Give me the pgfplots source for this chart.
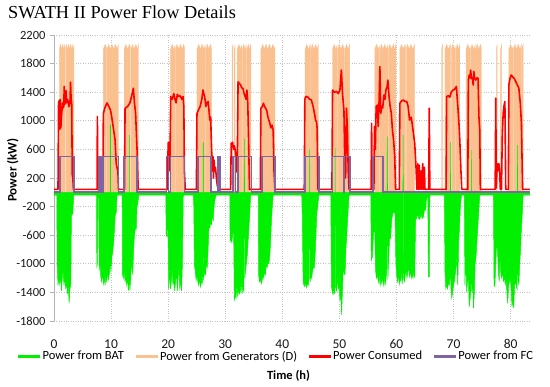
\documentclass[border=0pt]{standalone}
\usepackage{pgfplots}
\pgfplotsset{compat=1.18}
\usepackage{pgfplotstable}
\usepackage{fontspec}
\setmainfont{Carlito}
\newfontfamily\titlefont{Liberation Serif}
\definecolor{batgreen}{RGB}{0,240,0}
\definecolor{genorange}{RGB}{250,192,144}
\definecolor{fcpurple}{RGB}{128,100,162}
\definecolor{gridgray}{RGB}{195,195,195}

\pgfplotstableread{
t p
0 0
0.93 0
0.93 2000
1.13 2070
1.33 2000
1.53 2070
1.73 2000
1.9 2070
1.9 0
2.02 0
2.02 2000
2.13 2070
2.33 2000
2.53 2070
2.73 2000
2.93 2070
3.13 2000
3.33 2070
3.5 2000
3.5 0
8.65 0
8.65 2000
8.95 2070
9.2 2020
9.2 0
9.32 0
9.32 2000
9.55 2070
9.85 2000
10.15 2070
10.45 2000
10.75 2070
11.05 2000
11.3 2070
11.3 0
12.3 0
12.3 2000
12.6 2070
12.9 2000
13.2 2070
13.4 2030
13.4 0
13.52 0
13.52 2000
13.75 2070
14.05 2000
14.35 2070
14.6 2000
14.8 2070
14.8 0
20.4 0
20.4 2000
20.7 2070
21.0 2000
21.2 2050
21.2 0
21.32 0
21.32 2000
21.55 2070
21.85 2000
22.15 2070
22.45 2000
22.7 2070
22.9 2020
22.9 0
25.05 0
25.05 2000
25.35 2070
25.65 2000
25.95 2070
26.25 2000
26.5 2060
26.5 0
26.62 0
26.62 2000
26.85 2070
27.15 2000
27.4 2070
27.6 2010
27.6 0
31.2 0
31.2 2000
31.35 2070
31.35 0
31.6 0
31.6 2000
31.72 2060
31.72 0
32.1 0
32.1 2000
32.4 2070
32.7 2000
32.9 2060
32.9 0
33.02 0
33.02 2000
33.25 2070
33.5 2000
33.7 2060
33.7 0
33.82 0
33.82 2000
34.05 2070
34.3 2000
34.5 2070
34.5 0
36.25 0
36.25 2000
36.55 2070
36.85 2000
37.15 2070
37.45 2000
37.75 2070
38.05 2000
38.35 2070
38.7 2010
38.7 0
44.0 0
44.0 2000
44.3 2070
44.6 2000
44.9 2070
44.9 0
45.02 0
45.02 2000
45.25 2070
45.55 2000
45.85 2070
46.1 2000
46.3 2070
46.3 0
48.8 0
48.8 2000
49.1 2070
49.4 2000
49.6 2060
49.6 0
49.72 0
49.72 2000
49.95 2070
50.25 2000
50.55 2070
50.85 2000
50.9 2010
50.9 0
51.02 0
51.02 2000
51.25 2070
51.55 2000
51.8 2070
51.8 0
56.2 0
56.2 2000
56.5 2070
56.8 2000
57.0 2050
57.0 0
57.12 0
57.12 2000
57.35 2070
57.65 2000
57.95 2070
58.25 2000
58.5 2060
58.5 0
58.62 0
58.62 2000
58.85 2070
59.15 2000
59.45 2070
59.7 2000
59.9 2070
59.9 0
60.6 0
60.6 2000
60.9 2070
61.2 2000
61.5 2070
61.6 2030
61.6 0
61.72 0
61.72 2000
61.95 2070
62.25 2000
62.55 2070
62.85 2000
63.2 2070
63.2 0
67.9 0
67.9 2000
68.1 2070
68.1 0
68.5 0
68.5 2000
68.8 2070
69.1 2000
69.4 2070
69.5 2030
69.5 0
69.62 0
69.62 2000
69.85 2070
70.15 2000
70.3 2040
70.3 0
70.42 0
70.42 2000
70.65 2070
70.9 2000
71.1 2070
71.1 0
72.2 0
72.2 2000
72.5 2070
72.8 2000
72.9 2030
72.9 0
73.02 0
73.02 2000
73.25 2070
73.55 2000
73.8 2060
73.8 0
73.92 0
73.92 2000
74.15 2070
74.45 2000
74.7 2070
74.9 2010
74.9 0
77.5 0
77.5 2000
77.65 2070
77.65 0
78.25 0
78.25 2000
78.45 2070
78.45 0
79.7 0
79.7 2000
80.0 2070
80.3 2000
80.4 2030
80.4 0
80.52 0
80.52 2000
80.75 2070
81.05 2000
81.35 2070
81.65 2000
81.9 2070
81.9 0
82.0 0
82.0 2000
82.2 2070
82.2 0
83.4 0
}\gendata

\pgfplotstableread{
t p
0 -40
0.5 -40
0.55 -1000
0.7 -1300
0.85 -1200
1.0 -1280
1.15 -1150
1.3 -1380
1.45 -1200
1.6 -1100
1.75 -1300
1.9 -1180
2.05 -1350
2.2 -1250
2.35 -1420
2.5 -1300
2.65 -1550
2.8 -1350
2.95 -1280
3.05 -320
3.3 -300
3.45 -40
7.45 -40
7.5 -1040
7.6 -1000
7.7 -80
7.85 -80
7.9 -1100
8.05 -950
8.2 -1180
8.35 -1250
8.5 -1120
8.65 -1280
8.8 -1200
8.95 -1300
9.1 -1150
9.25 -1260
9.4 -1100
9.55 -1220
9.7 -1140
9.85 -1000
9.9 950
9.95 -1120
10.15 -900
10.3 -830
10.45 -700
10.6 -520
10.75 -300
10.9 -290
11.05 -40
11.95 -40
12.0 -1150
12.15 -1200
12.3 -1100
12.45 -1250
12.6 -1180
12.75 -1300
12.9 -1200
13.05 -1370
13.2 -1250
13.25 800
13.3 -1380
13.5 -1100
13.65 -1000
13.8 -1150
13.95 -800
14.1 -600
14.25 -500
14.4 -520
14.55 -200
14.7 -150
14.85 -40
19.6 -40
19.65 -600
19.8 -620
19.95 -300
20.1 -1350
20.25 -1100
20.4 -1350
20.55 -1250
20.7 -1100
20.85 -1300
21.0 -1200
21.15 -1380
21.3 -1250
21.45 -1100
21.6 -1380
21.75 -1200
21.9 -1050
22.05 -1370
22.2 -1200
22.35 -1380
22.5 -1000
22.65 -40
24.4 -40
24.5 -200
24.6 -1020
24.75 -1100
24.9 -1230
25.05 -1150
25.2 -1250
25.35 -1300
25.5 -1200
25.65 -1320
25.8 -1250
25.95 -1280
26.1 -1150
26.15 700
26.2 -1230
26.4 -1100
26.55 -1150
26.7 -980
26.85 -1050
27.0 -800
27.15 -460
27.3 -500
27.45 -420
27.6 -450
27.75 -300
27.9 -400
28.05 -200
28.2 -100
28.4 -40
30.8 -40
30.85 -690
31.0 -650
31.15 -700
31.3 -600
31.45 -400
31.6 -1505
31.75 -1450
31.9 -1480
32.05 -1300
32.2 -1460
32.35 -1350
32.5 -1420
32.65 -1390
32.8 -1250
32.95 -1420
33.1 -1300
33.25 -1390
33.35 750
33.45 -1200
33.55 -1100
33.7 -1000
33.85 -900
34.0 -700
34.15 -500
34.3 -300
34.45 -40
35.8 -40
35.85 -1150
36.0 -1250
36.15 -1200
36.3 -1280
36.45 -1250
36.6 -1150
36.75 -1200
36.9 -1100
37.05 -1150
37.2 -1000
37.35 -1050
37.5 -970
37.65 -1000
37.8 -900
37.95 -700
38.1 -400
38.25 -200
38.4 -40
43.4 -40
43.5 -300
43.65 -1250
43.8 -1300
43.95 -1320
44.1 -1250
44.25 -1330
44.4 -1280
44.55 -1300
44.7 -1200
44.8 600
44.9 -1250
45.0 -1150
45.15 -1200
45.3 -1100
45.45 -1050
45.6 -1060
45.75 -900
45.9 -600
46.05 -300
46.2 -200
46.4 -40
48.5 -40
48.6 -1300
48.75 -1400
48.9 -1430
49.05 -1350
49.2 -1420
49.25 620
49.3 -1300
49.5 -1380
49.65 -1200
49.8 -1350
49.95 -1300
50.1 -1500
50.25 -1450
50.4 -1715
50.55 -1350
50.7 -1000
50.85 -1150
51.0 -1140
51.15 -790
51.3 -600
51.5 -300
51.7 -40
55.5 -40
55.6 -950
55.8 -900
56.0 -550
56.2 -560
56.35 -1100
56.5 -1200
56.65 -1150
56.8 -1230
56.95 -1280
57.1 -1150
57.25 -1300
57.4 -1250
57.55 -1200
57.7 -1300
57.85 -1180
58.0 -1300
58.15 -1220
58.3 -1100
58.4 780
58.5 -1220
58.65 -900
58.8 -650
59.0 -645
59.15 -400
59.35 -300
59.55 -270
59.75 -300
59.9 -1000
60.05 -1170
60.2 -1250
60.35 -1150
60.5 -1285
60.65 -1200
60.8 -1250
60.95 -1100
61.1 -1280
61.17 800
61.25 -1200
61.4 -1250
61.55 -1150
61.7 -1100
61.85 -1200
62.0 -1110
62.15 -1050
62.3 -1180
62.45 -1100
62.6 -1200
62.75 -1150
62.9 -1200
63.05 -1100
63.2 -1200
63.35 -400
63.5 -365
63.7 -300
63.9 -365
64.1 -380
64.3 -300
64.5 -365
64.7 -350
64.9 -250
65.1 -250
65.25 -100
65.5 -40
65.6 -1180
65.75 -1180
65.85 -40
68.4 -40
68.5 -1100
68.65 -1345
68.8 -1300
68.95 -1350
69.1 -1250
69.25 -1300
69.4 -1200
69.45 700
69.55 -1350
69.7 -1480
69.85 -1400
70.0 -1300
70.15 -1250
70.3 -1150
70.45 -1050
70.6 -900
70.75 -1300
70.9 -700
71.05 -500
71.2 -200
71.4 -40
71.9 -40
72.0 -1300
72.15 -900
72.3 -1400
72.45 -1250
72.6 -1200
72.75 -1600
72.9 -1500
73.05 -1350
73.1 590
73.2 -1400
73.35 -1250
73.5 -1620
73.65 -1400
73.8 -1000
73.95 -900
74.1 -700
74.25 -500
74.4 -300
74.6 -40
77.0 -40
77.1 -1300
77.25 -1320
77.4 -1000
77.55 -700
77.7 -800
77.85 -1100
78.0 -1250
78.15 -900
78.3 -1150
78.45 -1200
78.6 -1100
78.75 -1250
78.9 -1150
79.05 -1300
79.2 -1200
79.35 -1400
79.5 -1555
79.65 -1300
79.8 -1250
79.95 -1200
80.1 -1350
80.25 -1600
80.4 -1500
80.55 -1620
80.7 -1300
80.85 -1250
81.0 -1300
81.15 -1370
81.22 660
81.3 -1200
81.45 -1300
81.6 -1000
81.75 -800
81.9 -500
82.05 -300
82.2 -40
83.4 -40
}\batdata

\pgfplotstableread{
t p
0 40
0.7 40
0.8 1250
0.9 1280
1.0 880
1.1 1300
1.2 900
1.3 1050
1.4 1150
1.5 1250
1.6 1180
1.7 1200
1.8 1480
1.9 1230
2.0 1300
2.1 1420
2.2 1250
2.4 1300
2.6 1200
2.8 1250
2.9 1540
3.0 1300
3.1 1250
3.2 250
3.3 200
3.4 40
7.55 40
7.6 1060
7.7 40
8.55 40
8.65 1100
8.9 1180
9.3 1250
9.6 1200
9.9 1150
10.1 1060
10.4 900
10.7 730
10.9 400
11.0 360
11.2 300
11.3 40
12.35 40
12.45 1175
12.9 1200
13.3 1250
13.7 1380
13.9 1455
14.1 1250
14.3 1100
14.5 700
14.6 500
14.75 40
19.9 40
20.0 690
20.15 700
20.3 300
20.45 1340
20.7 1300
21.0 1380
21.2 1300
21.4 1250
21.6 1370
21.8 1340
22.1 1350
22.4 1300
22.6 1340
22.75 1200
22.85 300
23.0 40
24.95 40
25.05 1100
25.3 1150
25.6 1200
25.9 1300
26.1 1430
26.25 1380
26.4 1340
26.6 1200
26.8 1250
27.0 1270
27.15 1150
27.3 1010
27.45 1050
27.6 640
27.75 300
27.85 500
27.95 200
28.05 450
28.15 300
28.3 350
28.45 200
28.6 100
28.8 40
30.95 40
31.05 690
31.2 640
31.3 700
31.45 600
31.6 650
31.75 590
31.9 500
32.0 300
32.1 280
32.25 1545
32.5 1520
32.7 1500
32.9 1460
33.1 1455
33.3 1380
33.5 1340
33.65 1300
33.8 1430
33.95 1250
34.1 730
34.25 40
36.15 40
36.25 1175
36.5 1200
36.7 1245
36.9 1200
37.25 1150
37.5 1050
37.8 970
38.0 900
38.2 940
38.4 870
38.55 300
38.7 40
43.85 40
43.95 1300
44.1 1340
44.5 1330
44.8 1300
45.1 1290
45.4 1200
45.7 1080
45.85 1000
46.0 990
46.1 900
46.25 40
48.7 40
48.8 1430
49.1 1400
49.5 1410
49.8 1380
50.1 1430
50.35 1710
50.55 1380
50.8 1150
50.95 405
51.1 200
51.25 1175
51.4 900
51.55 300
51.7 40
55.55 40
55.65 965
55.75 40
56.05 40
56.15 920
56.3 600
56.45 1200
56.65 1220
56.8 920
56.95 1250
57.1 1760
57.25 1105
57.45 1200
57.6 1180
57.8 1360
58.0 1300
58.15 1430
58.35 1470
58.5 1570
58.7 1340
58.9 1200
59.1 1105
59.3 870
59.5 730
59.7 500
59.85 40
60.5 40
60.6 1245
60.9 1280
61.2 1290
61.5 1270
61.8 1270
62.05 1200
62.3 1010
62.6 1050
62.9 870
63.2 685
63.4 400
63.6 40
63.75 400
63.85 40
64.0 380
64.1 40
64.3 300
64.4 40
64.6 400
64.7 40
64.9 350
65.0 40
65.65 40
65.75 1175
65.85 40
68.7 40
68.8 1340
69.1 1350
69.35 1330
69.6 1400
69.9 1430
70.2 1440
70.5 1480
70.8 1150
71.0 900
71.1 730
71.3 300
71.45 40
72.5 40
72.6 1570
72.75 1640
72.9 1600
73.0 1710
73.15 1590
73.3 1600
73.45 1500
73.55 1690
73.7 1600
73.9 1570
74.1 1600
74.3 1595
74.45 1060
74.6 870
74.7 40
77.3 40
77.4 1315
77.5 60
77.65 400
77.8 300
77.95 400
78.1 270
78.2 40
78.4 40
78.55 800
78.7 1105
78.85 1210
79.0 1270
79.15 40
79.6 40
79.7 1500
79.9 1595
80.1 1640
80.3 1620
80.6 1595
80.9 1550
81.2 1500
81.45 1455
81.7 1245
81.9 965
82.1 40
83.4 40
}\condata

\pgfplotstableread{
t p
0 0
1.05 0
1.05 500
3.5 500
3.5 0
7.9 0
7.9 500
8.3 500
8.3 0
8.6 0
8.6 500
11.3 500
11.3 0
12.3 0
12.3 500
14.6 500
14.6 0
19.7 0
19.7 500
20.05 500
20.05 0
20.4 0
20.4 500
22.85 500
22.85 0
25.2 0
25.2 500
27.5 500
27.5 0
28.8 0
28.8 500
29.1 500
29.1 0
31.3 0
31.3 500
31.8 500
31.8 0
32.2 0
32.2 500
34.6 500
34.6 0
36.4 0
36.4 500
38.7 500
38.7 0
44.0 0
44.0 500
46.4 500
46.4 0
48.8 0
48.8 500
50.8 500
50.8 0
50.85 0
50.85 500
51.8 500
51.8 0
55.9 0
55.9 500
57.6 500
57.6 0
83.4 0
}\fcdata

\begin{document}
\begin{tikzpicture}
\path[use as bounding box] (0,0) rectangle (550pt,387pt);
\node[anchor=base west, inner sep=0pt, font=\titlefont\fontsize{18.3}{21}\selectfont] at (8pt,368pt) {SWATH II Power Flow Details};
\begin{axis}[
  at={(54pt,66pt)}, anchor=south west,
  scale only axis, width=476pt, height=286pt,
  xmin=0, xmax=83.4, ymin=-1800, ymax=2200,
  xtick={0,10,...,80}, ytick={-1800,-1400,...,2200},
  axis lines=left, axis line style={-},
  x axis line style={draw=none},
  y axis line style={draw=black!30, line width=0.8pt},
  tick align=outside, major tick length=4pt,
  xtick style={draw=none},
  ytick style={draw=black!30, line width=0.8pt},
  grid=major, major grid style={gridgray, dotted, line width=0.8pt},
  /pgf/number format/assume math mode=true,
  /pgf/number format/1000 sep={},
  yticklabel style={font=\fontsize{12.5}{14}\selectfont, text=black!90, xshift=-1pt},
  xticklabel style={font=\fontsize{13.5}{15}\selectfont, text=black!90, inner sep=0pt, yshift=-14.5pt},
  ylabel={\bfseries Power (kW)},
  ylabel style={at={(axis description cs:-0.0866,0.528)}, anchor=center, font=\fontsize{13}{15}\selectfont},
  xlabel={\bfseries Time (h)},
  xlabel style={at={(axis description cs:0.4927,-0.1906)}, anchor=center, font=\fontsize{12.5}{15}\selectfont},
  legend columns=4,
  legend cell align=left,
  legend image code/.code={\draw[#1] (0pt,0pt) -- (22pt,0pt);},
  legend style={at={(axis description cs:-0.0777,-0.1235)}, anchor=west,
    draw=none, fill=none, inner sep=0pt, outer sep=0pt,
    font=\fontsize{12.5}{14}\selectfont,
    nodes={inner sep=1pt},
    /tikz/every even column/.append style={column sep=9.5pt}},
]
\addlegendimage{batgreen, line width=2.6pt}
\addlegendentry{Power from BAT}
\addlegendimage{genorange, line width=2.6pt}
\addlegendentry{Power from Generators (D)}
\addlegendimage{red, line width=2.6pt}
\addlegendentry{Power Consumed}
\addlegendimage{fcpurple, line width=2.6pt}
\addlegendentry{Power from FC}

\addplot[forget plot, fill=genorange, draw=genorange, line width=0.3pt] table[x=t, y=p] {\gendata} \closedcycle;
\addplot[forget plot, fill=batgreen, draw=batgreen, line width=0.5pt] table[x=t, y=p] {\batdata} \closedcycle;
\addplot[forget plot, red, line width=1.6pt, line join=round] table[x=t, y=p] {\condata};
\addplot[forget plot, fcpurple, line width=1.8pt] table[x=t, y=p] {\fcdata};
\end{axis}
\end{tikzpicture}
\end{document}
